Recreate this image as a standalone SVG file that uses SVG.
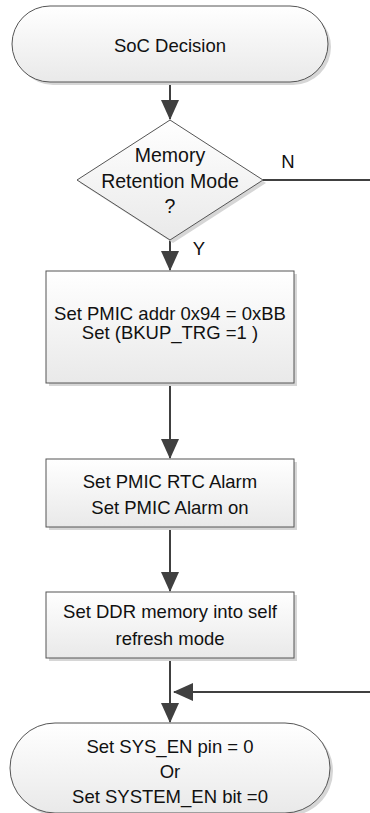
<svg xmlns="http://www.w3.org/2000/svg" width="370" height="813" viewBox="0 0 370 813">
<defs>
<linearGradient id="g" x1="0" y1="0" x2="0" y2="1">
<stop offset="0" stop-color="#ffffff"/>
<stop offset="1" stop-color="#e9e9e9"/>
</linearGradient>
<marker id="ah" viewBox="0 0 20 18" refX="19" refY="9" markerWidth="20" markerHeight="18" markerUnits="userSpaceOnUse" orient="auto">
<path d="M0,0 L20,9 L0,18 Z" fill="#404040"/>
</marker>
<style>
.shape{fill:url(#g);stroke:#555555;stroke-width:1}
.shadow{fill:#d6d6d6}
.t{font-family:"Liberation Sans",Arial,sans-serif;font-size:18.5px;fill:#111111;text-anchor:middle}
.d{font-size:19.5px}
.c{fill:none;stroke:#404040;stroke-width:2}
</style>
</defs>
<rect width="370" height="813" fill="#ffffff"/>
<g id="connectors">
<line class="c" x1="170" y1="82" x2="170" y2="119" marker-end="url(#ah)"/>
<line class="c" x1="170" y1="240" x2="170" y2="270" marker-end="url(#ah)"/>
<line class="c" x1="263" y1="180" x2="370" y2="180"/>
<line class="c" x1="170" y1="383" x2="170" y2="458" marker-end="url(#ah)"/>
<line class="c" x1="170" y1="527" x2="170" y2="591" marker-end="url(#ah)"/>
<line class="c" x1="170" y1="658" x2="170" y2="722" marker-end="url(#ah)"/>
<line class="c" x1="370" y1="692" x2="174" y2="692" marker-end="url(#ah)"/>
<text class="t" x="288" y="168">N</text>
<text class="t" x="199" y="255">Y</text>
</g>
<g id="start">
<rect class="shadow" x="15" y="9" width="316" height="76" rx="38"/>
<rect class="shape" x="12" y="6" width="316" height="76" rx="38"/>
<text class="t" x="170" y="52">SoC Decision</text>
</g>
<g id="decision">
<polygon class="shadow" points="173,123 266,183 173,243 80,183"/>
<polygon class="shape" points="170,120 263,180 170,240 77,180"/>
<text class="t d" x="170" y="162">Memory</text>
<text class="t d" x="170" y="188">Retention Mode</text>
<text class="t d" x="170" y="213">?</text>
</g>
<g id="pmic-addr">
<rect class="shadow" x="49" y="274" width="248" height="112"/>
<rect class="shape" x="46" y="271" width="248" height="112"/>
<text class="t" x="170" y="320">Set PMIC addr 0x94 = 0xBB</text>
<text class="t" x="170" y="339">Set (BKUP_TRG =1 )</text>
</g>
<g id="rtc-alarm">
<rect class="shadow" x="49" y="462" width="248" height="68"/>
<rect class="shape" x="46" y="459" width="248" height="68"/>
<text class="t" x="170" y="488">Set PMIC RTC Alarm</text>
<text class="t" x="170" y="514">Set PMIC Alarm on</text>
</g>
<g id="ddr">
<rect class="shadow" x="49" y="595" width="248" height="66"/>
<rect class="shape" x="46" y="592" width="248" height="66"/>
<text class="t" x="170" y="618">Set DDR memory into self</text>
<text class="t" x="170" y="645">refresh mode</text>
</g>
<g id="end">
<rect class="shadow" x="13" y="726" width="320" height="90" rx="45"/>
<rect class="shape" x="10" y="723" width="320" height="90" rx="45"/>
<text class="t" x="170" y="753">Set SYS_EN pin = 0</text>
<text class="t" x="170" y="778">Or</text>
<text class="t" x="170" y="803">Set SYSTEM_EN bit =0</text>
</g>
</svg>
